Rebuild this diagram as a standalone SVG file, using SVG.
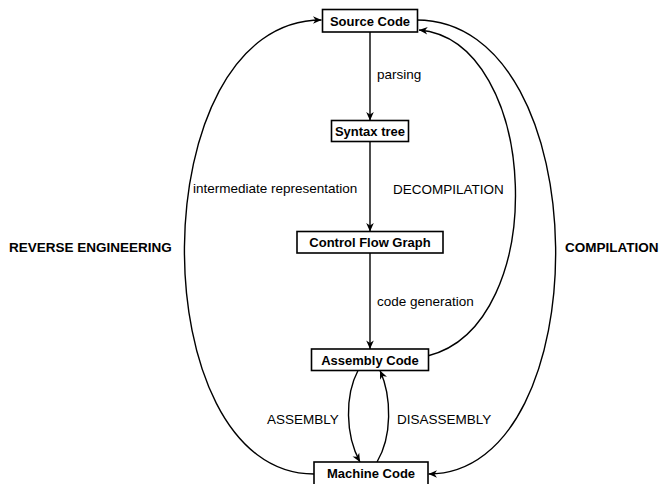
<svg xmlns="http://www.w3.org/2000/svg" width="665" height="484" viewBox="0 0 665 484">
<style>
.box rect{fill:#fff;stroke:#000;stroke-width:1.6}
.box text{font-family:"Liberation Sans",Arial,sans-serif;font-weight:bold;font-size:13px;text-anchor:middle;fill:#000}
.lbl{font-family:"Liberation Sans",Arial,sans-serif;font-size:13.5px;fill:#000}
.big{font-family:"Liberation Sans",Arial,sans-serif;font-weight:bold;font-size:13.5px;fill:#000}
.conn path{fill:none;stroke:#000;stroke-width:1.4}
</style>
<defs>
<marker id="arr" markerUnits="userSpaceOnUse" markerWidth="12" markerHeight="12" viewBox="-10 -6 12 12" refX="0" refY="0" orient="auto">
<path d="M0,0 L-8.5,-3.8 L-6,0 L-8.5,3.8 Z" fill="#000"/>
</marker>
</defs>
<g id="connectors" class="conn">
<path d="M370 32 L370 120.5" marker-end="url(#arr)"/>
<path d="M370 141.5 L370 231.5" marker-end="url(#arr)"/>
<path d="M370 253 L370 349" marker-end="url(#arr)"/>
<path d="M358 370.5 C345 395 345 435 360 462" marker-end="url(#arr)"/>
<path d="M377 462 C392 437 392 397 380 370.5" marker-end="url(#arr)"/>
<path d="M427.5 356 C552 325 540 40 419 30" marker-end="url(#arr)"/>
<path d="M416.5 20 C600 20 600 474 428.5 474" marker-end="url(#arr)"/>
<path d="M314 474 C140 474 140 20 321.5 20" marker-end="url(#arr)"/>
</g>
<g id="source" class="box"><rect x="322.5" y="9.5" width="95" height="22.5"/><text x="370" y="25.5">Source Code</text></g>
<g id="syntax" class="box"><rect x="331.5" y="120.5" width="77" height="21"/><text x="370" y="135.8">Syntax tree</text></g>
<g id="cfg" class="box"><rect x="297" y="231.5" width="146" height="21.5"/><text x="370" y="247">Control Flow Graph</text></g>
<g id="assembly" class="box"><rect x="311.5" y="349" width="117" height="21.5"/><text x="370" y="364.5">Assembly Code</text></g>
<g id="machine" class="box"><rect x="314" y="462" width="114" height="23"/><text x="371" y="478">Machine Code</text></g>
<g id="labels">
<text class="lbl" x="377" y="79">parsing</text>
<text class="lbl" x="193" y="193">intermediate representation</text>
<text class="lbl" x="393" y="194">DECOMPILATION</text>
<text class="lbl" x="377" y="306">code generation</text>
<text class="lbl" x="267" y="424">ASSEMBLY</text>
<text class="lbl" x="397" y="424">DISASSEMBLY</text>
<text class="big" x="9" y="251.5">REVERSE ENGINEERING</text>
<text class="big" x="565" y="251.5">COMPILATION</text>
</g>
</svg>
